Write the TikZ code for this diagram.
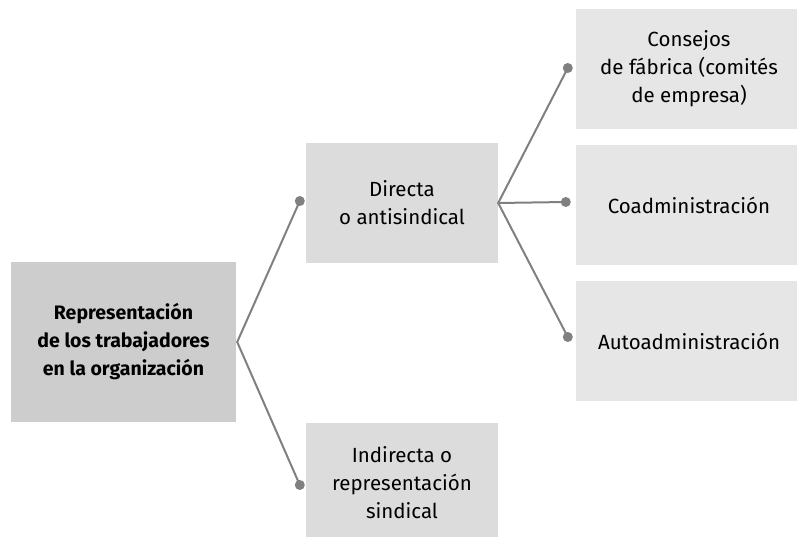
\documentclass[tikz,border=0pt]{standalone}
\usepackage{fontspec}
\setmainfont{Fira Sans}
\definecolor{rootgray}{RGB}{205,205,205}
\definecolor{midgray}{RGB}{220,220,220}
\definecolor{leafgray}{RGB}{230,230,230}
\definecolor{linegray}{RGB}{128,128,128}
\tikzset{
  box/.style={draw=none, minimum width=192, minimum height=120, inner sep=0pt, align=center, font=\fontsize{20.5}{28}\selectfont},
  rootbox/.style={box, fill=rootgray, minimum width=225, minimum height=160, font=\bfseries\fontsize{19.5}{28}\selectfont},
  midbox/.style={box, fill=midgray},
  leafbox/.style={box, fill=leafgray, minimum width=226},
  branch/.style={draw=linegray, line width=2},
  knob/.style={fill=linegray}
}

\begin{document}
\begin{tikzpicture}[x=1pt,y=1pt,yscale=-1,xscale=1]
\useasboundingbox (0,0) rectangle (797,537);

% Boxes
\node [rootbox] (root) at (123.5,342) {Representación\\de los trabajadores\\en la organización};
\node [midbox] (direct) at (402,203) {Directa\\o antisindical};
\node [midbox] (indirect) at (402,483) {Indirecta o\\representación\\sindical};
\node [leafbox] (council) at (689,69) {Consejos\\de fábrica (comités\\de empresa)};
\node [leafbox] (coadmin) at (689,205) {Coadministración};
\node [leafbox] (autoadmin) at (689,341) {Autoadministración};

% Dots in front of the boxes
\coordinate (rootfork) at ([xshift=1]root.east);
\coordinate (dirfork) at (direct.east);
\coordinate (kdirect) at ([xshift=-6,yshift=-2]direct.west);
\coordinate (kindirect) at ([xshift=-6,yshift=2]indirect.west);
\coordinate (kcouncil) at ([xshift=-8,yshift=-1]council.west);
\coordinate (kcoadmin) at ([xshift=-10,yshift=-3]coadmin.west);
\coordinate (kautoadmin) at ([xshift=-8,yshift=-4]autoadmin.west);

% Branches
\draw [branch] (kdirect) -- (rootfork) -- (kindirect);
\draw [branch] (kcouncil) -- (dirfork) -- (kautoadmin);
\draw [branch] (dirfork) -- (kcoadmin);
\foreach \k in {kdirect,kindirect,kcouncil,kcoadmin,kautoadmin}
  \fill [knob] (\k) circle (5);

\end{tikzpicture}
\end{document}
